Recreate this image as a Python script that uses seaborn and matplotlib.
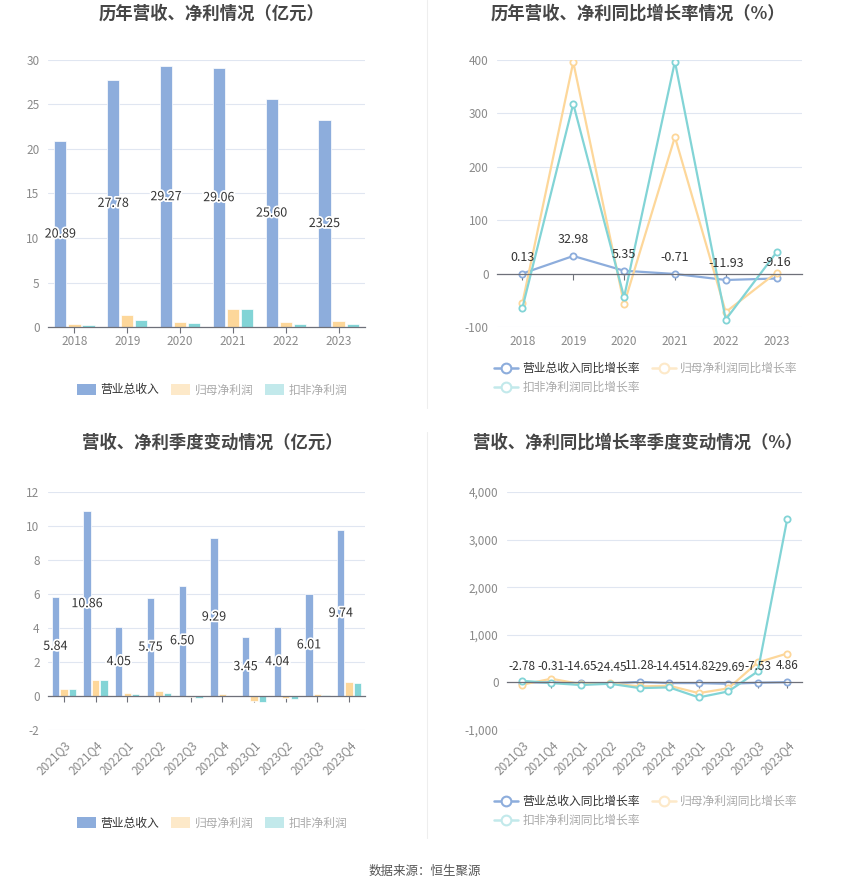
import pandas as pd
import numpy as np
import matplotlib
matplotlib.use('Agg')
import matplotlib.pyplot as plt
import matplotlib.patheffects as pe
from matplotlib.lines import Line2D
from matplotlib.patches import Patch
from matplotlib.ticker import FuncFormatter
import seaborn as sns

# ------------------------------- DATA ------------------------------- #
years = ['2018', '2019', '2020', '2021', '2022', '2023']
rev_year = [20.89, 27.78, 29.27, 29.06, 25.60, 23.25]
net_year = [0.30, 1.32, 0.57, 2.02, 0.57, 0.64]
ded_year = [0.19, 0.75, 0.41, 1.99, 0.30, 0.37]

rev_year_g = [0.13, 32.98, 5.35, -0.71, -11.93, -9.16]
net_year_g = [-55, 396, -57, 256, -72, 2]
ded_year_g = [-64, 318, -44, 397, -86, 40]

quarters = ['2021Q3', '2021Q4', '2022Q1', '2022Q2', '2022Q3',
            '2022Q4', '2023Q1', '2023Q2', '2023Q3', '2023Q4']
rev_q = [5.84, 10.86, 4.05, 5.75, 6.50, 9.29, 3.45, 4.04, 6.01, 9.74]
net_q = [0.39, 0.92, 0.18, 0.27, -0.04, 0.12, -0.27, -0.14, 0.12, 0.84]
ded_q = [0.39, 0.96, 0.14, 0.20, -0.10, -0.02, -0.33, -0.20, 0.06, 0.76]

rev_q_g = [-2.78, -0.31, -14.65, -24.45, 11.28, -14.45, -14.82, -29.69, -7.53, 4.86]
net_q_g = [-50, 77, -35, -20, -85, -70, -225, -125, 420, 607]
ded_q_g = [35, -14, -55, -28, -120, -105, -315, -190, 230, 3435]

bar_names = ['营业总收入', '归母净利润', '扣非净利润']
line_names = ['营业总收入同比增长率', '归母净利润同比增长率', '扣非净利润同比增长率']

colors = ['#8daddc', '#fdd79a', '#82d4d6']
faded = ['#8daddc', '#fde9c9', '#c2e9eb']

# ----------------------------- PLOTTING ----------------------------- #
sns.set_theme(style='white')
plt.rcParams['font.family'] = ['Noto Sans CJK SC', 'DejaVu Sans']
plt.rcParams['axes.unicode_minus'] = False

W, H = 850, 891
fig = plt.figure(figsize=(W / 100, H / 100), dpi=100)


def px_axes(x0, y0, x1, y1):
    return fig.add_axes([x0 / W, 1 - y1 / H, (x1 - x0) / W, (y1 - y0) / H])


def style_axes(ax, yticks):
    ax.set_yticks(yticks)
    ax.set_ylim(yticks[0], yticks[-1])
    ax.grid(axis='y', color='#e0e6f1', linewidth=0.8)
    ax.set_axisbelow(True)
    for s in ['left', 'right', 'top']:
        ax.spines[s].set_visible(False)
    ax.spines['bottom'].set_position(('data', 0))
    ax.spines['bottom'].set_color('#6e7079')
    ax.spines['bottom'].set_linewidth(0.9)
    ax.tick_params(axis='y', length=0, labelsize=8.5, labelcolor='#8a8a8a', pad=6)
    ax.tick_params(axis='x', length=4, width=0.8, color='#6e7079', direction='out',
                   labelbottom=False, bottom=True)
    ax.set_xlabel('')
    ax.set_ylabel('')


def bottom_labels(ax, labels, rotate=False):
    sec = ax.secondary_xaxis('bottom')
    sec.set_xticks(range(len(labels)), labels)
    sec.tick_params(length=0, labelsize=8.5, labelcolor='#8a8a8a', pad=6)
    sec.spines['bottom'].set_visible(False)
    if rotate:
        for t in sec.get_xticklabels():
            t.set_rotation(45)
            t.set_ha('right')
            t.set_rotation_mode('anchor')


def bar_chart(ax, cats, series, yticks, rotate=False):
    df = pd.DataFrame({'cat': np.tile(cats, 3),
                       'name': np.repeat(bar_names, len(cats)),
                       'value': np.concatenate(series)})
    sns.barplot(data=df, x='cat', y='value', hue='name', palette=colors, ax=ax,
                width=0.8, gap=0.13, edgecolor='white', linewidth=0.5,
                legend=False, saturation=1)
    ax.set_xlim(-0.5, len(cats) - 0.5)
    style_axes(ax, yticks)
    ax.bar_label(ax.containers[0], labels=[f'{v:.2f}' for v in series[0]],
                 label_type='center', fontsize=9, color='#333333',
                 path_effects=[pe.withStroke(linewidth=2.5, foreground='white')])
    bottom_labels(ax, cats, rotate)


def line_chart(ax, cats, series, yticks, rotate=False, comma=False, fs=9):
    df = pd.DataFrame({'cat': np.tile(cats, 3),
                       'name': np.repeat(line_names, len(cats)),
                       'value': np.concatenate(series)})
    sns.lineplot(data=df, x='cat', y='value', hue='name', palette=colors, ax=ax,
                 marker='o', markersize=4.5, markerfacecolor='white',
                 markeredgewidth=1.3, linewidth=1.6, sort=False, legend=False)
    for ln, c in zip(ax.lines, colors):
        ln.set_markeredgecolor(c)
    ax.set_xlim(-0.5, len(cats) - 0.5)
    style_axes(ax, yticks)
    ax.set_xticks(range(len(cats)))
    if comma:
        ax.yaxis.set_major_formatter(FuncFormatter(lambda v, p: f'{int(v):,}'))
    for i, v in enumerate(series[0]):
        ax.annotate(f'{v:.2f}', (i, v), xytext=(0, 7), textcoords='offset points',
                    ha='center', va='bottom', fontsize=fs, color='#333333')
    bottom_labels(ax, cats, rotate)


def title(text, x, y):
    fig.text(x / W, 1 - y / H, text, ha='center', va='center', fontsize=12.5,
             fontweight='bold', color='#464646')


def bar_legend(x, y):
    handles = [Patch(facecolor=c, edgecolor='none') for c in faded]
    leg = fig.legend(handles, bar_names, loc='center', bbox_to_anchor=(x / W, 1 - y / H),
                     ncol=3, frameon=False, fontsize=8.5, handlelength=1.6,
                     handleheight=1.0, handletextpad=0.4, columnspacing=1.0)
    for i, t in enumerate(leg.get_texts()):
        t.set_color('#333333' if i == 0 else '#aaaaaa')


def line_legend(x, y):
    handles = [Line2D([], [], color=c, marker='o', markersize=7, markerfacecolor='white',
                      markeredgewidth=1.5, linewidth=1.8) for c in faded]
    order = [0, 2, 1]
    leg = fig.legend([handles[i] for i in order], [line_names[i] for i in order],
                     loc='center', bbox_to_anchor=(x / W, 1 - y / H), ncol=2,
                     frameon=False, fontsize=8.5, handlelength=2.0,
                     handletextpad=0.4, columnspacing=1.0, labelspacing=0.5)
    for i, t in zip(order, leg.get_texts()):
        t.set_color('#333333' if i == 0 else '#aaaaaa')


# top-left
ax1 = px_axes(48, 60, 365, 327)
bar_chart(ax1, years, [rev_year, net_year, ded_year], [0, 5, 10, 15, 20, 25, 30])
title('历年营收、净利情况（亿元）', 212, 14)
bar_legend(212, 390)

# top-right
ax2 = px_axes(497, 60, 802, 327)
line_chart(ax2, years, [rev_year_g, net_year_g, ded_year_g], [-100, 0, 100, 200, 300, 400])
title('历年营收、净利同比增长率情况（%）', 638, 14)
line_legend(646, 378)

# bottom-left
ax3 = px_axes(48, 492, 365, 730)
bar_chart(ax3, quarters, [rev_q, net_q, ded_q], [-2, 0, 2, 4, 6, 8, 10, 12], rotate=True)
title('营收、净利季度变动情况（亿元）', 212, 443)
bar_legend(212, 823)

# bottom-right
ax4 = px_axes(507, 492, 802, 730)
line_chart(ax4, quarters, [rev_q_g, net_q_g, ded_q_g], [-1000, 0, 1000, 2000, 3000, 4000],
           rotate=True, comma=True, fs=8.5)
title('营收、净利同比增长率季度变动情况（%）', 638, 443)
line_legend(646, 811)

# divider lines
fig.add_artist(Line2D([427 / W, 427 / W], [1 - 0 / H, 1 - 408 / H], color='#eeeeee', lw=0.8))
fig.add_artist(Line2D([427 / W, 427 / W], [1 - 432 / H, 1 - 838 / H], color='#eeeeee', lw=0.8))

fig.text(425 / W, 1 - 871 / H, '数据来源：恒生聚源', ha='center', va='center',
         fontsize=9, color='#555555')

fig.savefig('out.png', dpi=100)
